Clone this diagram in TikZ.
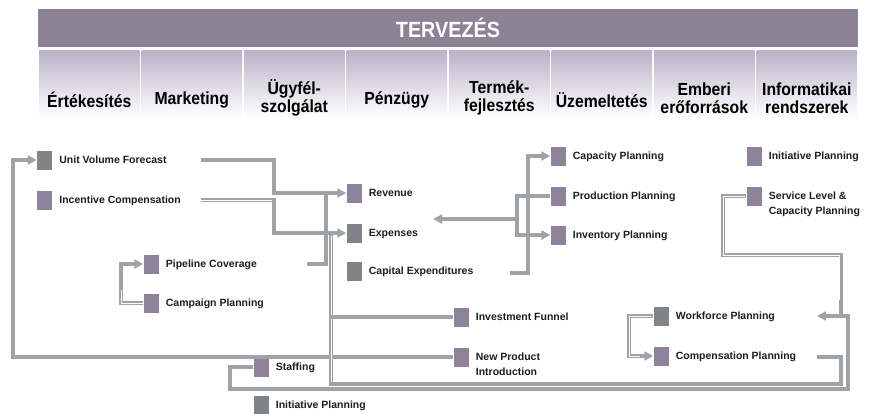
\documentclass[tikz,border=0pt]{standalone}
\usepackage{fontspec}
\setmainfont{Liberation Sans}
\newfontfamily\narrowfont[FakeStretch=0.9]{Liberation Sans}
\usetikzlibrary{arrows.meta,calc}
\definecolor{bandcol}{RGB}{140,131,150}
\definecolor{coltop}{RGB}{186,178,200}
\definecolor{sqpurple}{RGB}{143,130,155}
\definecolor{sqgray}{RGB}{128,131,135}
\definecolor{linecol}{RGB}{160,163,166}
\definecolor{txt}{RGB}{30,30,30}
\begin{document}
\begin{tikzpicture}[x=1pt,y=-1pt,
 sq/.style={minimum width=15pt,minimum height=19pt,inner sep=0pt,draw=none},
 psq/.style={sq,fill=sqpurple},
 gsq/.style={sq,fill=sqgray},
 lbl/.style={anchor=base west,inner sep=0pt,font=\bfseries\fontsize{10.5}{15}\selectfont,text=txt,align=left},
 ln/.style={draw=linecol,line width=3.3pt},
 dblc/.style={draw=white,line width=0.8pt},
 tip/.style={-{Triangle[length=9pt,width=9pt]}},
 colbox/.style={minimum width=100.5pt,minimum height=68pt,inner sep=0pt,top color=coltop,bottom color=white,draw=none},
 colhead/.style={font=\narrowfont\bfseries\fontsize{17.5}{18.5}\selectfont,align=center,text=black,inner sep=0pt},
]
\useasboundingbox[fill=white] (0,0) rectangle (869,413);

% header
\node[fill=bandcol,minimum width=820pt,minimum height=38pt,inner sep=0pt,text=white,
      font=\narrowfont\bfseries\fontsize{22}{24}\selectfont] (band) at (448,28) {TERVEZÉS};

\node[colbox] (k1) at (89.25,84) {};
\node[colbox] (k2) at (191.75,84) {};
\node[colbox] (k3) at (294.25,84) {};
\node[colbox] (k4) at (396.75,84) {};
\node[colbox] (k5) at (499.25,84) {};
\node[colbox] (k6) at (601.75,84) {};
\node[colbox] (k7) at (704.25,84) {};
\node[colbox] (k8) at (806.75,84) {};

\node[colhead] (h1) at (89.25,100) {Értékesítés};
\node[colhead] (h2) at (191.75,100) {Marketing};
\node[colhead] (h3) at (294.25,98) {Ügyfél-\\szolgálat};
\node[colhead] (h4) at (396.75,100) {Pénzügy};
\node[colhead] (h5) at (499.25,98) {Termék-\\fejlesztés};
\node[colhead] (h6) at (601.75,100) {Üzemeltetés};
\node[colhead] (h7) at (704.25,98) {Emberi\\erőforrások};
\node[colhead] (h8) at (806.75,98) {Informatikai\\rendszerek};

% items
\node[gsq] (uvf) at (44.5,160) {};
\node[lbl] (uvfT) at ($(uvf.east)+(7,3.8)$) {Unit Volume Forecast};
\node[psq] (inc) at (44.5,200) {};
\node[lbl] (incT) at ($(inc.east)+(7,3.8)$) {Incentive Compensation};
\node[psq] (pip) at (151,264) {};
\node[lbl] (pipT) at ($(pip.east)+(7,3.8)$) {Pipeline Coverage};
\node[psq] (camp) at (151,303) {};
\node[lbl] (campT) at ($(camp.east)+(7,3.8)$) {Campaign Planning};
\node[psq] (rev) at (354,193) {};
\node[lbl] (revT) at ($(rev.east)+(7,3.8)$) {Revenue};
\node[gsq] (exp) at (354,233) {};
\node[lbl] (expT) at ($(exp.east)+(7,3.8)$) {Expenses};
\node[gsq] (cap) at (354,271) {};
\node[lbl] (capT) at ($(cap.east)+(7,3.8)$) {Capital Expenditures};
\node[psq] (capp) at (558,156) {};
\node[lbl] (cappT) at ($(capp.east)+(7,3.8)$) {Capacity Planning};
\node[psq] (prod) at (558,196) {};
\node[lbl] (prodT) at ($(prod.east)+(7,3.8)$) {Production Planning};
\node[psq] (inv) at (558,235) {};
\node[lbl] (invT) at ($(inv.east)+(7,3.8)$) {Inventory Planning};
\node[psq] (ini1) at (754,156) {};
\node[lbl] (ini1T) at ($(ini1.east)+(7,3.8)$) {Initiative Planning};
\node[psq] (svc) at (754,196) {};
\node[lbl] (svcT) at ($(svc.east)+(7,18.8)$) {Service Level \&\\Capacity Planning};
\node[psq] (invf) at (461,317) {};
\node[lbl] (invfT) at ($(invf.east)+(7,3.8)$) {Investment Funnel};
\node[psq] (npi) at (461,357) {};
\node[lbl] (npiT) at ($(npi.east)+(7,18.8)$) {New Product\\Introduction};
\node[gsq] (wf) at (661,316) {};
\node[lbl] (wfT) at ($(wf.east)+(7,3.8)$) {Workforce Planning};
\node[psq] (comp) at (661,356) {};
\node[lbl] (compT) at ($(comp.east)+(7,3.8)$) {Compensation Planning};
\node[psq] (staff) at (261,367) {};
\node[lbl] (staffT) at ($(staff.east)+(7,3.8)$) {Staffing};
\node[gsq] (ini2) at (261,405) {};
\node[lbl] (ini2T) at ($(ini2.east)+(7,3.8)$) {Initiative Planning};

% free ends
\coordinate (a1) at (201,160);
\coordinate (a2) at (201,200);
\coordinate (a3) at (307,264);
\coordinate (a4) at (510,273);
\coordinate (a5) at (433,219);
\coordinate (a6) at (817,357);
\coordinate (a7) at (817,316);

% connectors
\draw[ln,tip] (npi.west) -| (13,160) -- (uvf.west);
\draw[ln,tip] (a1) -- (274,160) |- (rev.west);
\draw[ln,tip] (a2) -- (274,200) |- (exp.west);
\draw[dblc] (a2) -- (272,200);
\draw[ln] (a3) -| (326,193);
\draw[ln] (a6) -| (841,384) -| (331,233);
\draw[dblc] (331,382) -- (331,236);
\draw[ln] (invf.west) -- (331,317);
\draw[ln,tip] (camp.west) -- (121,303) |- (pip.west);
\draw[dblc] (143,303) -- (121,303) -- (121,290);
\draw[ln,tip] (a4) -- (528,273) |- (capp.west);
\draw[ln,tip] (prod.west) -- (517,196) |- (inv.west);
\draw[ln,tip] (517,219) -- (a5);
\draw[ln,tip] (svc.west) -| (723,255) -| (841,316) -- (a7);
\draw[dblc] (745,196) -- (723,196) -- (723,255) -- (839,255) -- (839,300);
\draw[ln] (staff.west) -| (230,389) -| (848,316) -- (841,316);
\draw[ln,tip] (wf.west) -- (629,316) |- (comp.west);
\draw[dblc] (651,316) -- (629,316) -- (629,356) -- (640,356);
\end{tikzpicture}
\end{document}
